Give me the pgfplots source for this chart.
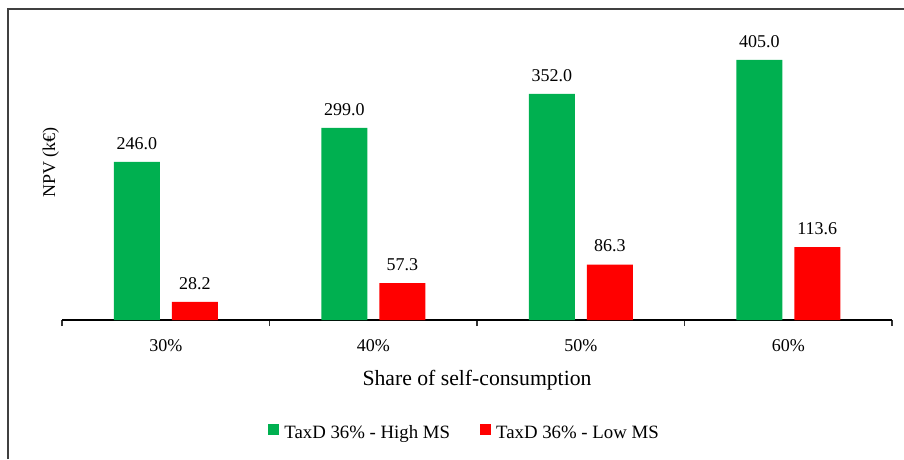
\documentclass[border=0pt]{standalone}
\usepackage{pgfplots}
\pgfplotsset{compat=1.18}
\usepackage{fontspec}
\setmainfont{Liberation Serif}

\definecolor{barGreen}{HTML}{00B050}
\definecolor{barRed}{HTML}{FF0000}
\definecolor{frameGray}{HTML}{404040}

\begin{document}
\begin{tikzpicture}
	\begin{axis}[
		name=ax,
		scale only axis,
		width=830pt, height=300pt,
		ybar=12pt, bar width=46pt,
		xmin=-0.5, xmax=3.5,
		ymin=0, ymax=467,
		axis x line*=bottom,
		axis y line*=left,
		y axis line style={draw=none},
		ytick=\empty,
		xtick={0,1,2,3},
		xticklabels={\textrm{30\%},\textrm{40\%},\textrm{50\%},\textrm{60\%}},
		major x tick style={draw=none},
		minor xtick={-0.5,0.5,1.5,2.5,3.5},
		minor x tick style={line width=1.2pt, black!80},
		minor tick length=6pt,
		tick align=outside,
		x axis line style={line width=1.5pt},
		xticklabel style={font=\fontsize{18}{21}\selectfont, yshift=-12pt},
		xlabel={Share of self-consumption},
		xlabel style={font=\fontsize{21.7}{25}\selectfont, at={(axis description cs:0.5,0)}, anchor=base, yshift=-65pt},
		ylabel={NPV (k€)},
		ylabel style={font=\fontsize{18}{21}\selectfont, at={(axis description cs:-0.0084,0.525)}, anchor=base, rotate=0},
		/pgf/number format/assume math mode=true,
		nodes near coords={\pgfmathprintnumber[fixed,zerofill,precision=1]{\pgfplotspointmeta}},
		every node near coord/.append style={font=\fontsize{18}{21}\selectfont, black, yshift=9pt},
		legend style={draw=none, legend columns=2, at={(axis description cs:0.485,-0.377)}, anchor=center,
			font=\fontsize{18.8}{22}\selectfont,
			/tikz/every odd column/.append style={column sep=3pt},
			/tikz/every even column/.append style={column sep=28pt}},
		legend image code/.code={\fill[#1] (0pt,-2pt) rectangle (11pt,9pt);},
	]
		\addplot[fill=barGreen, draw=none] coordinates {(0,246.0) (1,299.0) (2,352.0) (3,405.0)};
		\addplot[fill=barRed, draw=none] coordinates {(0,28.2) (1,57.3) (2,86.3) (3,113.6)};
		\legend{TaxD 36\% - High MS, TaxD 36\% - Low MS}
	\end{axis}
	\draw[line width=2pt, frameGray] (ax.south west) ++(-54pt,-139pt) -- ++(0pt,450pt) -- ++(896pt,0pt);
	\pgfresetboundingbox
	\path[use as bounding box] (ax.south west) ++(-62pt,-139pt) rectangle ++(904pt,459pt);
\end{tikzpicture}
\end{document}
